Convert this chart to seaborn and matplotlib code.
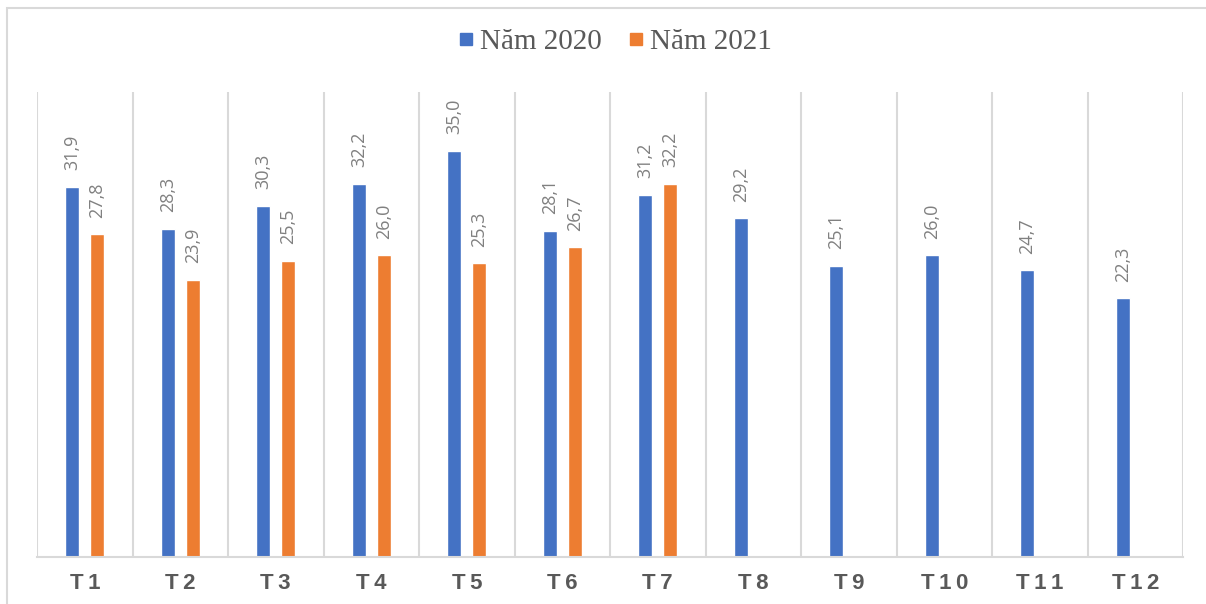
import numpy as np
import pandas as pd
import matplotlib
matplotlib.use("Agg")
import matplotlib.pyplot as plt
import seaborn as sns
from matplotlib.patches import Rectangle
from matplotlib.lines import Line2D

months = ["T1", "T2", "T3", "T4", "T5", "T6", "T7", "T8", "T9", "T10", "T11", "T12"]
series_names = ["Năm 2020", "Năm 2021"]
values_2020 = [31.9, 28.3, 30.3, 32.2, 35.0, 28.1, 31.2, 29.2, 25.1, 26.0, 24.7, 22.3]
values_2021 = [27.8, 23.9, 25.5, 26.0, 25.3, 26.7, 32.2, np.nan, np.nan, np.nan, np.nan, np.nan]
colors = ["#4472C4", "#ED7D31"]

df = pd.DataFrame({
    "month": months * 2,
    "series": [series_names[0]] * 12 + [series_names[1]] * 12,
    "value": values_2020 + values_2021,
})

sns.set_style("white")
fig = plt.figure(figsize=(12.06, 6.04), dpi=100)
ax = fig.add_axes([37 / 1206, 1 - 556.5 / 604, (1183 - 37) / 1206, (556.5 - 92) / 604])

sns.barplot(data=df, x="month", y="value", hue="series", order=months,
            hue_order=series_names, palette=colors, width=0.52, gap=0.44,
            saturation=1, ax=ax, legend=False, err_kws={"linewidth": 0})

ax.set_xlim(-0.5, 11.5)
ax.set_ylim(0, 40.1)
ax.set_xlabel("")
ax.set_ylabel("")
ax.set_yticks([])
ax.set_xticks(range(12))
ax.set_xticklabels(["\u2009".join(m) for m in months], fontsize=16, fontweight="bold",
                   color="#595959", family=["Liberation Sans", "DejaVu Sans"])
ax.tick_params(axis="x", length=0, pad=12)
ax.set_xticks(np.arange(-0.5, 12, 1), minor=True)
ax.tick_params(axis="x", which="minor", length=0)
ax.grid(False)
ax.grid(True, axis="x", which="minor", color="#D9D9D9", linewidth=1.5)
for s in ["top", "left", "right"]:
    ax.spines[s].set_visible(False)
ax.spines["bottom"].set_color("#D9D9D9")
ax.spines["bottom"].set_linewidth(1.5)

for container in ax.containers:
    for bar in container:
        h = bar.get_height()
        if np.isnan(h) or h == 0:
            continue
        ax.annotate(f"{h:.1f}".replace(".", ","),
                    (bar.get_x() + bar.get_width() / 2, h),
                    xytext=(0, 12), textcoords="offset points",
                    rotation=90, ha="center", va="bottom",
                    fontsize=13, color="#808080", family="Open Sans")

handles = [Line2D([], [], linestyle="none", marker="s", markersize=8,
                  markerfacecolor=c, markeredgecolor=c) for c in colors]
ax.legend(handles, series_names, loc="center", bbox_to_anchor=(616 / 1206, (604 - 42) / 604),
          bbox_transform=fig.transFigure, ncol=2, frameon=False,
          prop={"family": "Liberation Serif", "size": 21},
          handlelength=0.4, handletextpad=0.3, columnspacing=0.95,
          labelcolor="#595959")

fig.patches.append(Rectangle((7 / 1206, -0.1), 1.2, 1 - 8 / 604 + 0.1,
                             transform=fig.transFigure, fill=False,
                             edgecolor="#D9D9D9", linewidth=1.5))

fig.savefig("out.png", dpi=100)
